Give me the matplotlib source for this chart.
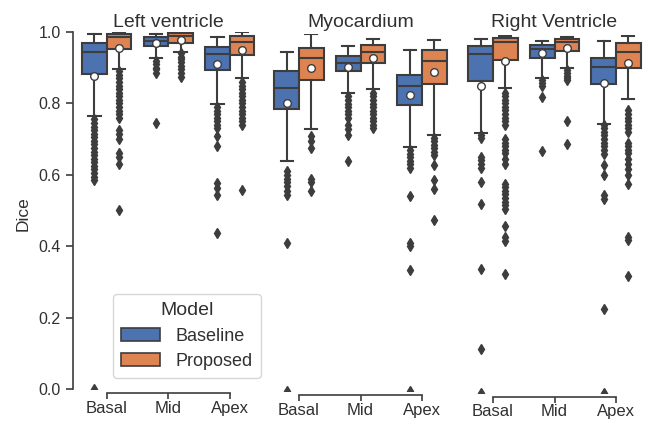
import matplotlib.pyplot as plt
from matplotlib.patches import Patch

plt.rcParams['font.family'] = ['Liberation Sans', 'DejaVu Sans']

regions = ["Left ventricle", "Myocardium", "Right Ventricle"]
slices = ["Basal", "Mid", "Apex"]
models = ["Baseline", "Proposed"]
colors = ["#4c72b0", "#dd8452"]
line_col = "#3d3d3d"
text_col = "#303030"

# per slice: lower whisker, Q1, median, Q3, upper whisker
lv_base = [[0.765, 0.882, 0.943, 0.969, 0.994],
           [0.927, 0.960, 0.976, 0.985, 0.995],
           [0.797, 0.894, 0.938, 0.959, 0.985]]
lv_prop = [[0.895, 0.953, 0.985, 0.994, 1.000],
           [0.943, 0.970, 0.989, 0.996, 0.999],
           [0.870, 0.936, 0.971, 0.989, 1.000]]
lv_base_mean = [0.877, 0.968, 0.909]
lv_prop_mean = [0.956, 0.977, 0.950]
lv_base_out = [[0.755, 0.745, 0.735, 0.725, 0.715, 0.705, 0.695, 0.685, 0.675, 0.665,
                0.655, 0.645, 0.635, 0.625, 0.615, 0.605, 0.595, 0.585, 0.0],
               [0.92, 0.91, 0.90, 0.895, 0.885, 0.745],
               [0.79, 0.78, 0.77, 0.76, 0.75, 0.74, 0.73, 0.71, 0.68, 0.578, 0.562, 0.543, 0.437]]
lv_prop_out = [[0.89, 0.88, 0.87, 0.86, 0.85, 0.84, 0.83, 0.82, 0.81, 0.80, 0.79, 0.78,
                0.77, 0.76, 0.725, 0.715, 0.70, 0.66, 0.65, 0.63, 0.50],
               [0.94, 0.93, 0.925, 0.915, 0.905, 0.895, 0.885, 0.875],
               [0.86, 0.85, 0.84, 0.83, 0.82, 0.81, 0.80, 0.79, 0.78, 0.77, 0.76, 0.75, 0.74, 0.557]]

myo_base = [[0.644, 0.789, 0.849, 0.895, 0.949],
            [0.836, 0.897, 0.920, 0.939, 0.965],
            [0.683, 0.801, 0.853, 0.886, 0.956]]
myo_prop = [[0.735, 0.870, 0.934, 0.960, 0.999],
            [0.847, 0.918, 0.949, 0.968, 0.986],
            [0.716, 0.860, 0.923, 0.954, 0.982]]
myo_base_mean = [0.807, 0.907, 0.828]
myo_prop_mean = [0.905, 0.932, 0.893]
myo_base_out = [[0.615, 0.605, 0.595, 0.585, 0.575, 0.56, 0.55, 0.415, 0.0],
                [0.825, 0.815, 0.805, 0.795, 0.785, 0.775, 0.765, 0.745, 0.735, 0.717, 0.645],
                [0.675, 0.665, 0.655, 0.645, 0.635, 0.625, 0.545, 0.415, 0.405, 0.34, 0.0]]
myo_prop_out = [[0.713, 0.70, 0.682, 0.595, 0.585, 0.56],
                [0.835, 0.825, 0.815, 0.805, 0.795, 0.785, 0.775, 0.765, 0.755, 0.745, 0.736],
                [0.708, 0.70, 0.69, 0.68, 0.67, 0.66, 0.633, 0.59, 0.566, 0.479]]

rv_base = [[0.727, 0.873, 0.947, 0.971, 0.991],
           [0.882, 0.936, 0.962, 0.973, 0.985],
           [0.752, 0.863, 0.913, 0.936, 0.984]]
rv_prop = [[0.853, 0.931, 0.982, 0.992, 0.999],
           [0.909, 0.956, 0.982, 0.990, 0.996],
           [0.822, 0.909, 0.954, 0.978, 0.998]]
rv_base_mean = [0.859, 0.952, 0.868]
rv_prop_mean = [0.928, 0.966, 0.924]
rv_base_out = [[0.72, 0.713, 0.66, 0.65, 0.64, 0.63, 0.59, 0.527, 0.347, 0.121, 0.0],
               [0.875, 0.868, 0.858, 0.828, 0.677],
               [0.749, 0.74, 0.73, 0.72, 0.71, 0.70, 0.69, 0.68, 0.667, 0.637, 0.609,
                0.553, 0.543, 0.233, 0.0]]
rv_prop_out = [[0.84, 0.83, 0.82, 0.81, 0.80, 0.79, 0.78, 0.77, 0.76, 0.75, 0.71, 0.70,
                0.69, 0.68, 0.67, 0.655, 0.64, 0.585, 0.575, 0.565, 0.555, 0.545, 0.535,
                0.525, 0.515, 0.465, 0.435, 0.425, 0.333],
               [0.903, 0.895, 0.887, 0.88, 0.875, 0.76, 0.697],
               [0.79, 0.78, 0.77, 0.76, 0.75, 0.74, 0.73, 0.70, 0.69, 0.68, 0.67, 0.655,
                0.64, 0.625, 0.61, 0.585, 0.436, 0.428, 0.326]]

panels = [
    (lv_base, lv_prop, lv_base_mean, lv_prop_mean, lv_base_out, lv_prop_out),
    (myo_base, myo_prop, myo_base_mean, myo_prop_mean, myo_base_out, myo_prop_out),
    (rv_base, rv_prop, rv_base_mean, rv_prop_mean, rv_base_out, rv_prop_out),
]

W, H = 653, 423
fig = plt.figure(figsize=(W / 100, H / 100), dpi=100)

# axes placement in pixels: left edge, y of the zero line (from top)
rects = [(76, 389), (268.25, 391), (462.25, 392.5)]
title_pads = [3.6, 5.0, 6.0]
axes = []
for k, (px, py) in enumerate(rects):
    ax = fig.add_axes([px / W, (H - py) / H, 184.5 / W, 357 / H])
    axes.append(ax)

    base, prop, bmean, pmean, bout, pout = panels[k]
    stats, pos = [], []
    for i in range(len(slices)):
        for j, (box, mean, out) in enumerate([(base[i], bmean[i], bout[i]),
                                              (prop[i], pmean[i], pout[i])]):
            stats.append(dict(whislo=box[0], q1=box[1], med=box[2], q3=box[3],
                              whishi=box[4], mean=mean, fliers=out))
            pos.append(i + (j - 0.5) * 0.4)

    bp = ax.bxp(stats, positions=pos, widths=0.4, capwidths=0.2, patch_artist=True,
                showmeans=True,
                boxprops=dict(edgecolor=line_col, linewidth=1.5),
                whiskerprops=dict(color=line_col, linewidth=1.5),
                capprops=dict(color=line_col, linewidth=1.5),
                medianprops=dict(color=line_col, linewidth=1.5),
                meanprops=dict(marker='o', markerfacecolor='white',
                               markeredgecolor=line_col, markersize=5.5, markeredgewidth=1),
                flierprops=dict(marker='d', markerfacecolor=line_col,
                                markeredgecolor=line_col, markersize=5))
    for n, patch in enumerate(bp['boxes']):
        patch.set_facecolor(colors[n % 2])

    ax.set_xlim(-0.5, 2.5)
    ax.set_ylim(0, 1)
    ax.set_xticks(range(len(slices)))
    ax.set_xticklabels(slices)
    ax.set_title(regions[k], fontsize=14, pad=title_pads[k], color=text_col)

    for s in ['top', 'right']:
        ax.spines[s].set_visible(False)
    ax.spines['bottom'].set_position(('outward', 3))
    ax.spines['bottom'].set_bounds(0, 2)
    for s in ['bottom', 'left']:
        ax.spines[s].set_color(line_col)
        ax.spines[s].set_linewidth(1.2)
    ax.tick_params(colors=line_col, labelcolor=text_col, width=1.2, length=5)
    ax.tick_params(axis='x', labelsize=12, length=4, pad=1.5)

    if k == 0:
        ax.spines['left'].set_position(('outward', 2.5))
        ax.set_yticks([0, 0.2, 0.4, 0.6, 0.8, 1.0])
        ax.tick_params(axis='y', labelsize=11.5)
        ax.set_ylabel("Dice", fontsize=12.5, color=text_col)
        ax.yaxis.set_label_coords(-0.245, 0.49)
    else:
        ax.spines['left'].set_visible(False)
        ax.tick_params(axis='y', left=False, labelleft=False)

handles = [Patch(facecolor=c, edgecolor=line_col, linewidth=1.2) for c in colors]
leg = axes[0].legend(handles, models, title="Model", loc='lower left',
                     bbox_to_anchor=(113 / W, (H - 378) / H), bbox_transform=fig.transFigure,
                     borderaxespad=0, fontsize=13, title_fontsize=14,
                     handlelength=2.15, handleheight=0.78, borderpad=0.45,
                     labelspacing=0.45, handletextpad=0.85, frameon=True)
leg.get_frame().set_edgecolor('#cccccc')
for t in leg.get_texts():
    t.set_color(text_col)
leg.get_title().set_color(text_col)

fig.savefig("out.png", dpi=100)
